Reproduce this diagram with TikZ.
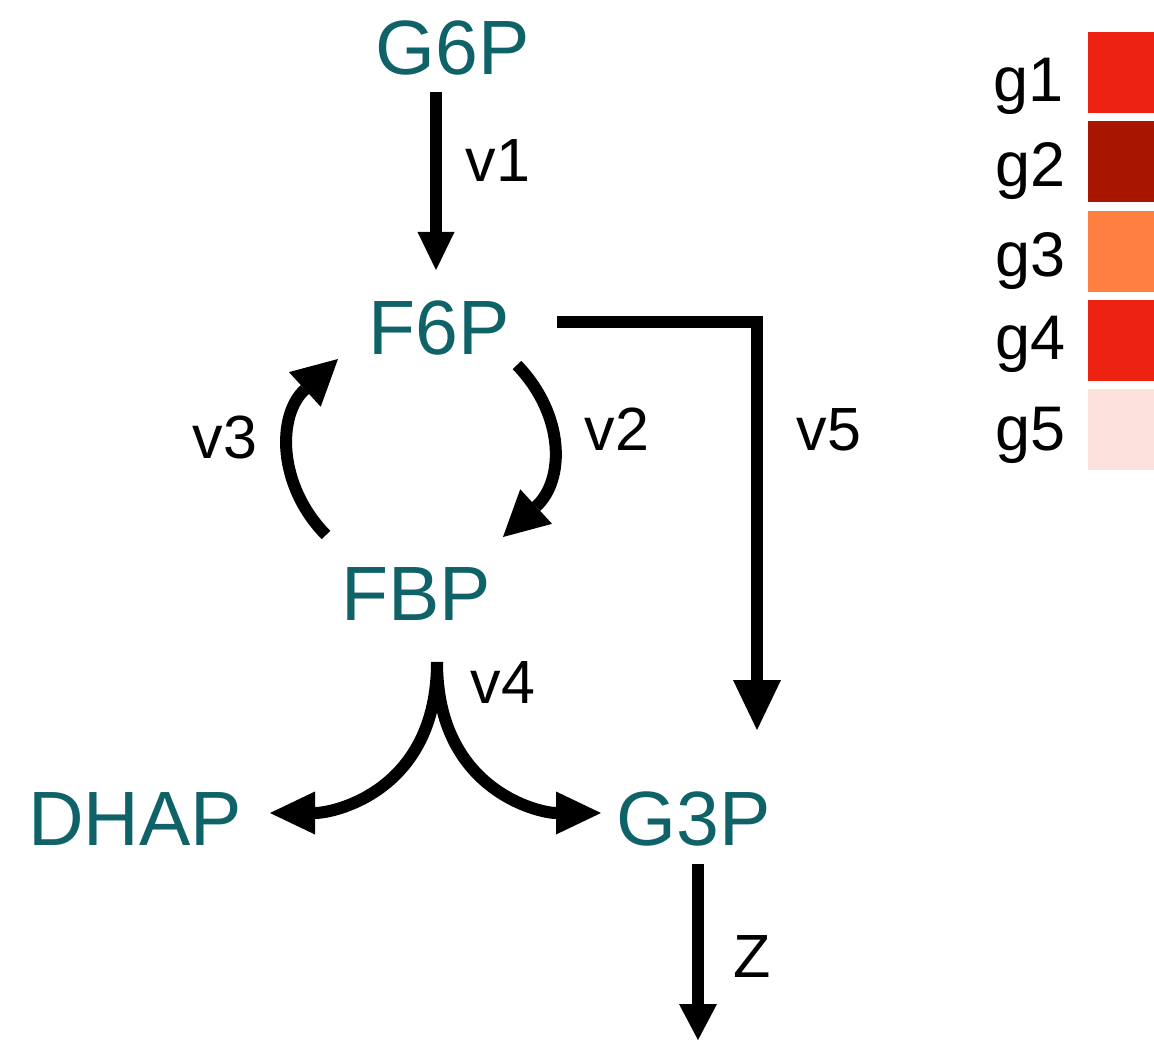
\documentclass[tikz,border=0pt]{standalone}
\usepackage{fontspec}
\setmainfont{Liberation Sans}
\usetikzlibrary{arrows.meta}
\definecolor{met}{RGB}{14,98,104}
\definecolor{ga}{RGB}{237,34,16}
\definecolor{gb}{RGB}{168,21,0}
\definecolor{gc}{RGB}{255,127,64}
\definecolor{ge}{RGB}{252,225,221}
\tikzset{
  metab/.style={anchor=base, text=met, inner sep=0pt, font=\fontsize{77}{77}\selectfont},
  rlab/.style={anchor=base, text=black, inner sep=0pt, font=\fontsize{61}{61}\selectfont},
  glab/.style={anchor=base east, text=black, inner sep=0pt, font=\fontsize{63}{63}\selectfont},
  swatch/.style={draw=none, minimum width=66pt, minimum height=81pt, inner sep=0pt, anchor=north west},
  flux/.style={line width=12pt, draw=black},
}
\begin{document}
\begin{tikzpicture}[x=1pt,y=-1pt]
\useasboundingbox (0,0) rectangle (1154,1040);
% metabolites
\node[metab] (g6p) at (453,75) {G6P};
\node[metab] (f6p) at (439,355) {F6P};
\node[metab] (fbp) at (416,620) {FBP};
\node[metab] (dhap) at (135,845) {DHAP};
\node[metab] (g3p) at (694,845) {G3P};
% reaction labels
\node[rlab] (lv1) at (498,182) {v1};
\node[rlab] (lv2) at (617,450) {v2};
\node[rlab] (lv3) at (225,458) {v3};
\node[rlab] (lv4) at (503,703) {v4};
\node[rlab] (lv5) at (829,450) {v5};
\node[rlab] (lz) at (752,977) {Z};
% connector end points
\coordinate (v1s) at (436,92);
\coordinate (v1e) at (436,270);
\coordinate (v5s) at (557,322);
\coordinate (v5e) at (757,730);
\coordinate (v2s) at (517,365);
\coordinate (v2e) at (503,537);
\coordinate (v3s) at (326,535);
\coordinate (v3e) at (338,359);
\coordinate (v4s) at (437,662);
\coordinate (v4l) at (270,813);
\coordinate (v4r) at (601,813);
\coordinate (zs) at (698,864);
\coordinate (ze) at (698,1040);
% connectors
\draw[flux, -{Triangle[length=38pt,width=37pt,line width=0pt]}] (v1s) -- (v1e);
\draw[flux, -{Triangle[length=50pt,width=48pt,line width=0pt]}] (v5s) -| (v5e);
\draw[flux, -{Triangle[length=45pt,width=47pt,line width=0pt]}] (v2s) .. controls (565,415) and (565,480) .. (v2e);
\draw[flux, -{Triangle[length=45pt,width=47pt,line width=0pt]}] (v3s) .. controls (277,485) and (277,415) .. (v3e);
\draw[flux, -{Triangle[length=45pt,width=43pt,line width=0pt]}] (v4s) .. controls (437,790) and (335,813) .. (v4l);
\draw[flux, -{Triangle[length=45pt,width=43pt,line width=0pt]}] (v4s) .. controls (437,790) and (539,813) .. (v4r);
\draw[flux, -{Triangle[length=36pt,width=38pt,line width=0pt]}] (zs) -- (ze);
% legend
\node[swatch, fill=ga] (s1) at (1088,32) {};
\node[swatch, fill=gb] (s2) at (1088,121) {};
\node[swatch, fill=gc] (s3) at (1088,211) {};
\node[swatch, fill=ga] (s4) at (1088,300) {};
\node[swatch, fill=ge] (s5) at (1088,389) {};
\node[glab] (l1) at (1064,102) {g1};
\node[glab] (l2) at (1066,187) {g2};
\node[glab] (l3) at (1066,277) {g3};
\node[glab] (l4) at (1066,360) {g4};
\node[glab] (l5) at (1066,450) {g5};
\end{tikzpicture}
\end{document}
